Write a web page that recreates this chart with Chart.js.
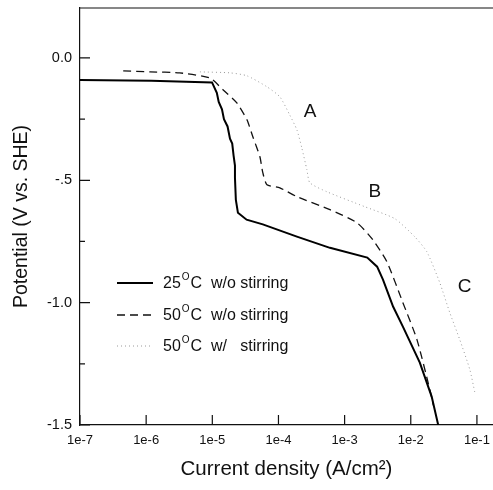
<!DOCTYPE html>
<html>
<head>
<meta charset="utf-8">
<script src="https://cdn.jsdelivr.net/npm/chart.js@4"></script>
<style>
  html, body { margin: 0; padding: 0; background: #fff; }
  #wrap { width: 493px; height: 490px; }
</style>
</head>
<body>
<div id="wrap"><canvas id="chart"></canvas></div>
<script>
// 25 C w/o stirring
const solidX = [1e-7, 1.2e-6, 9.9e-6, 1.17e-5, 1.25e-5, 1.4e-5, 1.5e-5, 1.7e-5, 1.85e-5, 2.0e-5, 2.1e-5, 2.2e-5, 2.2e-5, 2.27e-5, 2.44e-5, 3.3e-5, 5.8e-5, 1.9e-4, 6.0e-4, 2.2e-3, 3.1e-3, 3.8e-3, 5.4e-3, 7.6e-3, 1.37e-2, 2.07e-2, 2.6e-2]
const solidY = [-0.09, -0.093, -0.1, -0.143, -0.18, -0.21, -0.25, -0.28, -0.33, -0.35, -0.40, -0.44, -0.49, -0.58, -0.633, -0.661, -0.68, -0.73, -0.776, -0.816, -0.853, -0.906, -1.016, -1.098, -1.245, -1.384, -1.5]

// 50 C w/o stirring
const dashX = [4.5e-7, 1.15e-6, 3.2e-6, 9.2e-6, 1.45e-5, 2.35e-5, 3.34e-5, 4.1e-5, 5.24e-5, 5.8e-5, 6.7e-5, 1.05e-4, 1.9e-4, 6.0e-4, 1.53e-3, 2.67e-3, 4.35e-3, 7.6e-3, 1.24e-2, 1.94e-2, 2.2e-2]
const dashY = [-0.053, -0.057, -0.061, -0.082, -0.13, -0.184, -0.253, -0.322, -0.404, -0.469, -0.518, -0.531, -0.567, -0.62, -0.673, -0.743, -0.833, -1.0, -1.151, -1.355, -1.42]

// 50 C w/ stirring
const dotX = [6.5e-6, 1.85e-5, 3.34e-5, 6.7e-5, 1.05e-4, 1.48e-4, 1.9e-4, 2.25e-4, 2.69e-4, 2.98e-4, 5.4e-4, 2.02e-3, 5.75e-3, 1.15e-2, 1.75e-2, 2.74e-2, 3.89e-2, 5.5e-2, 7.8e-2, 9.3e-2]
const dotY = [-0.057, -0.061, -0.073, -0.118, -0.159, -0.233, -0.294, -0.367, -0.457, -0.51, -0.547, -0.608, -0.657, -0.731, -0.792, -0.918, -1.041, -1.151, -1.273, -1.367]

const seriesNames = ["25", "50", "50"]
const seriesTails = ["C  w/o stirring", "C  w/o stirring", "C  w/   stirring"]

const xTicks = [1e-7, 1e-6, 1e-5, 1e-4, 1e-3, 1e-2, 1e-1]
const xTickLabels = ["1e-7", "1e-6", "1e-5", "1e-4", "1e-3", "1e-2", "1e-1"]
const yTicks = [0, -0.5, -1.0, -1.5]
const yTickLabels = ["0.0", "-.5", "-1.0", "-1.5"]
const yMinorTicks = [-0.25, -0.75, -1.25]

const regionLabels = ["A", "B", "C"]
const regionX = [3.0e-4, 2.86e-3, 6.5e-2]
const regionY = [-0.22, -0.547, -0.935]

const FONT = "'Liberation Sans', Arial, sans-serif"
const INK = "#111"

function toPoints(xs, ys) {
  return xs.map((x, i) => ({ x: x, y: ys[i] }))
}

function noPad(scale) {
  scale.paddingLeft = 0
  scale.paddingRight = 0
  scale.paddingTop = 0
  scale.paddingBottom = 0
}

const decor = {
  id: "decor",
  afterDatasetsDraw(chart) {
    const { ctx, chartArea, scales } = chart
    const xs = scales.x, ys = scales.y
    ctx.save()
    ctx.strokeStyle = INK
    ctx.lineWidth = 1.2
    // top frame line
    ctx.beginPath()
    ctx.moveTo(chartArea.left, chartArea.top)
    ctx.lineTo(chartArea.right, chartArea.top)
    ctx.stroke()
    // inward ticks
    ctx.beginPath()
    yTicks.forEach(v => {
      const p = ys.getPixelForValue(v)
      ctx.moveTo(chartArea.left, p); ctx.lineTo(chartArea.left + 10, p)
    })
    yMinorTicks.forEach(v => {
      const p = ys.getPixelForValue(v)
      ctx.moveTo(chartArea.left, p); ctx.lineTo(chartArea.left + 5, p)
    })
    xTicks.forEach(v => {
      const p = xs.getPixelForValue(v)
      ctx.moveTo(p, chartArea.bottom); ctx.lineTo(p, chartArea.bottom - 10)
    })
    ctx.stroke()

    // region labels
    ctx.fillStyle = INK
    ctx.font = "19px " + FONT
    ctx.textAlign = "center"
    ctx.textBaseline = "middle"
    regionLabels.forEach((t, i) => {
      ctx.fillText(t, xs.getPixelForValue(regionX[i]), ys.getPixelForValue(regionY[i]))
    })

    // legend
    const ds = chart.data.datasets
    const x0 = chartArea.left + 37, rowY = [283, 315, 346], lineLen = 36
    ds.forEach((d, i) => {
      const y = rowY[i]
      ctx.save()
      ctx.strokeStyle = d.borderColor
      ctx.lineWidth = d.borderWidth
      ctx.setLineDash(d.borderDash || [])
      ctx.beginPath()
      ctx.moveTo(x0, y); ctx.lineTo(x0 + lineLen, y)
      ctx.stroke()
      ctx.restore()
      ctx.textAlign = "left"
      ctx.textBaseline = "middle"
      let tx = x0 + lineLen + 10
      ctx.font = "16px " + FONT
      ctx.fillText(seriesNames[i], tx, y + 1)
      tx += ctx.measureText(seriesNames[i]).width + 1
      ctx.font = "10px " + FONT
      ctx.fillText("O", tx, y - 6)
      tx += ctx.measureText("O").width + 1
      ctx.font = "16px " + FONT
      ctx.fillText(seriesTails[i], tx, y + 1)
    })
    ctx.restore()
  }
}

const ctx = document.getElementById("chart")
new Chart(ctx, {
  type: "line",
  data: {
    datasets: [
      {
        label: "25C w/o stirring",
        data: toPoints(solidX, solidY),
        borderColor: "#000",
        borderWidth: 2,
        pointRadius: 0,
        tension: 0
      },
      {
        label: "50C w/o stirring",
        data: toPoints(dashX, dashY),
        borderColor: "#111",
        borderWidth: 1.3,
        borderDash: [8, 5],
        pointRadius: 0,
        tension: 0.2
      },
      {
        label: "50C w/ stirring",
        data: toPoints(dotX, dotY),
        borderColor: "#9a9a9a",
        borderWidth: 1,
        borderDash: [1, 3],
        pointRadius: 0,
        tension: 0.2
      }
    ]
  },
  options: {
    responsive: true,
    maintainAspectRatio: false,
    animation: false,
    layout: { padding: { top: 8, right: 0, left: 0, bottom: 0 } },
    plugins: {
      legend: { display: false },
      tooltip: { enabled: false }
    },
    scales: {
      x: {
        type: "logarithmic",
        min: 1e-7,
        max: 0.175,
        afterBuildTicks: scale => { scale.ticks = xTicks.map(v => ({ value: v })) },
        afterFit: scale => { scale.height = 65; noPad(scale) },
        grid: { display: false, drawTicks: false },
        border: { display: true, color: INK, width: 1.2 },
        ticks: {
          color: INK,
          font: { family: FONT, size: 13 },
          padding: 8,
          maxRotation: 0,
          autoSkip: false,
          callback: (v) => xTickLabels[xTicks.findIndex(t => Math.abs(Math.log10(t) - Math.log10(v)) < 1e-6)]
        },
        title: {
          display: true,
          text: "Current density (A/cm\u00B2)",
          color: INK,
          font: { family: FONT, size: 20.5 },
          padding: { top: 0, bottom: 8 }
        }
      },
      y: {
        min: -1.5,
        max: 0.204,
        afterBuildTicks: scale => { scale.ticks = yTicks.map(v => ({ value: v })) },
        afterFit: scale => { scale.width = 80; noPad(scale) },
        grid: { display: false, drawTicks: false },
        border: { display: true, color: INK, width: 1.2 },
        ticks: {
          color: INK,
          font: { family: FONT, size: 14.5 },
          padding: 8,
          callback: (v) => yTickLabels[yTicks.findIndex(t => Math.abs(t - v) < 1e-6)]
        },
        title: {
          display: true,
          text: "Potential (V vs. SHE)",
          color: INK,
          font: { family: FONT, size: 19.5 },
          padding: { top: 10, bottom: 0 }
        }
      }
    }
  },
  plugins: [decor]
})
</script>
</body>
</html>
